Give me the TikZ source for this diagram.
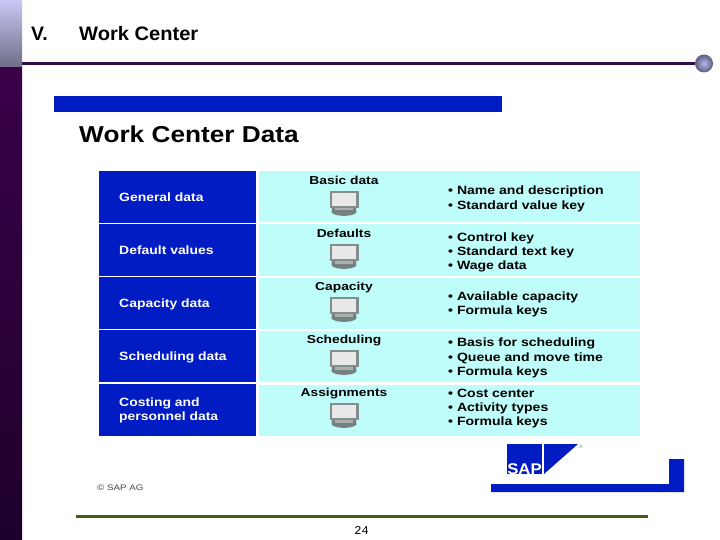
\documentclass[tikz,border=0pt]{standalone}
\usepackage{fontspec}
\setmainfont{Liberation Sans}
\setmonofont{Liberation Mono}
\definecolor{sapblue}{RGB}{2,28,196}
\definecolor{cellcyan}{RGB}{190,253,250}
\definecolor{barpurple}{RGB}{58,0,72}
\definecolor{barpurpledark}{RGB}{30,0,44}
\definecolor{rulepurple}{RGB}{50,12,72}
\definecolor{ruleolive}{RGB}{66,92,16}
\definecolor{screen}{RGB}{232,232,232}
\definecolor{bezel}{RGB}{132,142,140}
\definecolor{pcbase}{RGB}{118,128,128}
\definecolor{blocktop}{RGB}{200,200,245}
\definecolor{blockbot}{RGB}{110,110,135}
\definecolor{ballin}{RGB}{182,182,240}
\definecolor{ballout}{RGB}{92,92,125}
\tikzset{
  lefttext/.style={anchor=base west,align=left,text=white,font=\fontsize{12}{14}\selectfont\bfseries,inner sep=0pt,xscale=1.16,transform shape},
  midtext/.style={anchor=base,text=black,font=\fontsize{11.5}{14}\selectfont\bfseries,inner sep=0pt,xscale=1.2,transform shape},
  righttext/.style={anchor=west,align=left,text=black,font=\fontsize{12}{14.3}\selectfont\bfseries,inner sep=0pt,xscale=1.17,transform shape},
  leftcell/.style={fill=sapblue,draw=none},
  rightcell/.style={fill=cellcyan,draw=none}
}
\newcommand{\pcmon}[2]{%
  \begin{scope}[shift={(#1,#2)}]
    \fill[pcbase] (-12,8) -- (12,8) -- (12.5,13) .. controls (9,17.5) and (-9,17.5) .. (-12.5,13) -- cycle;
    \fill[bezel!70!white] (-9,8.5) rectangle (9,11);
    \fill[bezel] (-14.5,-8.5) rectangle (14.5,8.5);
    \fill[screen] (-12,-6.5) rectangle (12,6.5);
  \end{scope}}
\begin{document}
\begin{tikzpicture}[x=1pt,y=-1pt]
\useasboundingbox (0,0) rectangle (720,540);
\fill[white] (0,0) rectangle (720,540);
% sidebar
\shade[top color=barpurple,bottom color=barpurpledark] (0,67) rectangle (22,540);
\shade[top color=blocktop,bottom color=blockbot] (0,0) rectangle (22,67);
% top rule and ball
\node[circle,minimum size=18pt,inner sep=0pt,inner color=ballin,outer color=ballout] (ball) at (704,63.5) {};
\coordinate (rulestart) at (22,63.5);
\draw[rulepurple,line width=2.2pt] (rulestart) -- (ball);
% titles
\node[anchor=west,inner sep=0pt,font=\fontsize{19.5}{22}\selectfont\bfseries] (num) at (31,34) {V.};
\node[anchor=west,inner sep=0pt,font=\fontsize{19.5}{22}\selectfont\bfseries,xscale=1.03,transform shape] (title) at (79,34) {Work Center};
\fill[sapblue] (54,96) rectangle (502,112);
\node[anchor=base west,inner sep=0pt,font=\fontsize{23}{26}\selectfont\bfseries,xscale=1.14,transform shape] (sub) at (79,143) {Work Center Data};
% table
\fill[leftcell] (99,171) rectangle (256,223);
\fill[leftcell] (99,224) rectangle (256,276);
\fill[leftcell] (99,277) rectangle (256,329);
\fill[leftcell] (99,330) rectangle (256,382);
\fill[leftcell] (99,384) rectangle (256,436);
\fill[rightcell] (259,171) rectangle (640,222);
\fill[rightcell] (259,224) rectangle (640,276);
\fill[rightcell] (259,278) rectangle (640,329);
\fill[rightcell] (259,331) rectangle (640,382);
\fill[rightcell] (259,385) rectangle (640,436);
\node[lefttext] (l1) at (119,201.5) {General data};
\node[lefttext] (l2) at (119,254.5) {Default values};
\node[lefttext] (l3) at (119,307.5) {Capacity data};
\node[lefttext] (l4) at (119,360.5) {Scheduling data};
\node[lefttext,anchor=west] (l5) at (119,410) {Costing and\\personnel data};
\node[midtext] (m1) at (344,184.5) {Basic data};
\node[midtext] (m2) at (344,237.5) {Defaults};
\node[midtext] (m3) at (344,290.5) {Capacity};
\node[midtext] (m4) at (344,343.5) {Scheduling};
\node[midtext] (m5) at (344,396.5) {Assignments};
\pcmon{344}{199.5}
\pcmon{344}{252.5}
\pcmon{344}{305.5}
\pcmon{344}{358.5}
\pcmon{344}{411.5}
\node[righttext] (r1) at (448,199) {• Name and description\\• Standard value key};
\node[righttext] (r2) at (448,252.5) {• Control key\\• Standard text key\\• Wage data};
\node[righttext] (r3) at (448,304.5) {• Available capacity\\• Formula keys};
\node[righttext] (r4) at (448,358) {• Basis for scheduling\\• Queue and move time\\• Formula keys};
\node[righttext] (r5) at (448,408.5) {• Cost center\\• Activity types\\• Formula keys};
% logo
\fill[sapblue] (507,444) rectangle (542,474);
\fill[sapblue] (544,444) -- (578,444) -- (544,474) -- cycle;
\node[inner sep=0pt,text=white,font=\fontsize{15.5}{15.5}\selectfont\bfseries,anchor=base,xscale=1.08,transform shape] (sap) at (524.5,474) {SAP};
\node[inner sep=0pt,font=\fontsize{5}{5}\selectfont,text=gray] (reg) at (581,447) {®};
\fill[sapblue] (491,484) -- (669,484) -- (669,459) -- (684,459) -- (684,492) -- (491,492) -- cycle;
% footer
\node[anchor=west,inner sep=0pt,text=black!75,font=\fontsize{8}{10}\selectfont,xscale=1.22,transform shape] (copy) at (97,488) {© SAP AG};
\fill[ruleolive] (76,515) rectangle (648,518);
\node[inner sep=0pt,font=\fontsize{12}{14}\selectfont\ttfamily] (page) at (361.5,530) {24};
\end{tikzpicture}
\end{document}
